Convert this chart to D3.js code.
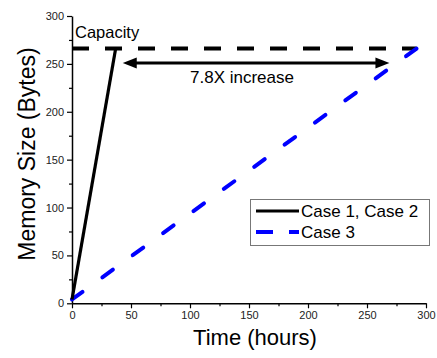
<!DOCTYPE html>
<html>
<head>
<meta charset="utf-8">
<script src="https://cdn.jsdelivr.net/npm/d3@7"></script>
<style>
  html, body { margin: 0; padding: 0; background: #fff; }
  svg { display: block; font-family: "Liberation Sans", Arial, sans-serif; }
</style>
</head>
<body>
<svg id="chart" width="437" height="358"></svg>
<script>
// Memory growth over time for the three cases
const case12Time = [0, 37];
const case12Mem = [4, 266];
const case3Time = [0, 292];
const case3Mem = [4, 266];
const capacityMem = 266;
const capacitySpan = [0, 292];
const arrowSpan = [43, 269];
const arrowMem = 251;
const xTicks = [0, 50, 100, 150, 200, 250, 300];
const yTicks = [0, 50, 100, 150, 200, 250, 300];
const legendLabels = ["Case 1, Case 2", "Case 3"];

const svg = d3.select("#chart");
const x = d3.scaleLinear().domain([0, 300]).range([72, 426]);
const y = d3.scaleLinear().domain([0, 300]).range([303.3, 16]);

// Axes: major ticks with labels, minor ticks between them
const minor = d3.range(25, 300, 50);
const xAxisG = svg.append("g").attr("transform", `translate(0,${y(0)})`);
xAxisG.call(d3.axisBottom(x).tickValues(xTicks).tickSize(5).tickSizeOuter(0).tickPadding(3));
xAxisG.append("g").call(d3.axisBottom(x).tickValues(minor).tickSize(3).tickFormat(""))
  .select(".domain").remove();
const yAxisG = svg.append("g").attr("transform", `translate(${x(0)},0)`);
yAxisG.call(d3.axisLeft(y).tickValues(yTicks).tickSize(5).tickSizeOuter(0).tickPadding(3));
yAxisG.append("g").call(d3.axisLeft(y).tickValues(minor).tickSize(3).tickFormat(""))
  .select(".domain").remove();
svg.selectAll(".domain").attr("stroke", "#000").attr("stroke-width", 1.5);
svg.selectAll(".tick line").attr("stroke", "#000").attr("stroke-width", 1.2);
svg.selectAll(".tick text").attr("font-size", 11).attr("fill", "#222")
  .attr("font-family", "Liberation Sans, Arial, sans-serif");

// Axis titles
svg.append("text").attr("x", 255).attr("y", 345).attr("text-anchor", "middle")
  .attr("font-size", 22).attr("fill", "#000").text("Time (hours)");
svg.append("text").attr("transform", "translate(35,154) rotate(-90)")
  .attr("text-anchor", "middle").attr("font-size", 23).attr("fill", "#000")
  .text("Memory Size (Bytes)");

const line = d3.line().x(d => x(d[0])).y(d => y(d[1]));

// Capacity level
svg.append("path").datum(capacitySpan.map(t => [t, capacityMem]))
  .attr("d", line).attr("fill", "none").attr("stroke", "#000")
  .attr("stroke-width", 4).attr("stroke-dasharray", "17,16");
svg.append("text").attr("x", 75).attr("y", 38).attr("font-size", 16.5)
  .attr("fill", "#000").text("Capacity");

// Series: the dashed line is spaced so it starts and ends on a dash
const case3Path = svg.append("path").datum(case3Time.map((t, i) => [t, case3Mem[i]]))
  .attr("d", line).attr("fill", "none").attr("stroke", "#0000ff")
  .attr("stroke-width", 4).attr("stroke-linecap", "round");
const dashLen = 13;
const len3 = case3Path.node().getTotalLength();
const nGaps = Math.round((len3 - dashLen) / 36);
const gapLen = (len3 - dashLen) / nGaps - dashLen;
case3Path.attr("stroke-dasharray", `${dashLen},${gapLen}`);

svg.append("path").datum(case12Time.map((t, i) => [t, case12Mem[i]]))
  .attr("d", line).attr("fill", "none").attr("stroke", "#000")
  .attr("stroke-width", 3.2);

// Double-headed arrow marking the growth factor
const ay = y(arrowMem), ax0 = x(arrowSpan[0]), ax1 = x(arrowSpan[1]);
const headL = 14, headW = 5.5;
svg.append("line").attr("x1", ax0 + headL - 1).attr("x2", ax1 - headL + 1)
  .attr("y1", ay).attr("y2", ay).attr("stroke", "#000").attr("stroke-width", 3);
svg.append("path")
  .attr("d", `M${ax0},${ay} L${ax0 + headL},${ay - headW} L${ax0 + headL},${ay + headW} Z`)
  .attr("fill", "#000");
svg.append("path")
  .attr("d", `M${ax1},${ay} L${ax1 - headL},${ay - headW} L${ax1 - headL},${ay + headW} Z`)
  .attr("fill", "#000");
svg.append("text").attr("x", 242).attr("y", 83).attr("text-anchor", "middle")
  .attr("font-size", 17).attr("fill", "#000").text("7.8X increase");

// Legend
const lg = svg.append("g");
lg.append("rect").attr("x", 250.5).attr("y", 199.5).attr("width", 179).attr("height", 46)
  .attr("fill", "#fff").attr("stroke", "#777").attr("stroke-width", 1);
const legendStyles = [
  { color: "#000", dash: null, width: 3 },
  { color: "#0000ff", dash: "17,16", width: 4 }
];
legendLabels.forEach((lab, i) => {
  const ly = 211 + i * 21;
  lg.append("line").attr("x1", 256).attr("x2", 299).attr("y1", ly).attr("y2", ly)
    .attr("stroke", legendStyles[i].color).attr("stroke-width", legendStyles[i].width)
    .attr("stroke-dasharray", legendStyles[i].dash);
  lg.append("text").attr("x", 301).attr("y", ly + 6).attr("font-size", 17)
    .attr("fill", "#000").text(lab);
});
</script>
</body>
</html>
